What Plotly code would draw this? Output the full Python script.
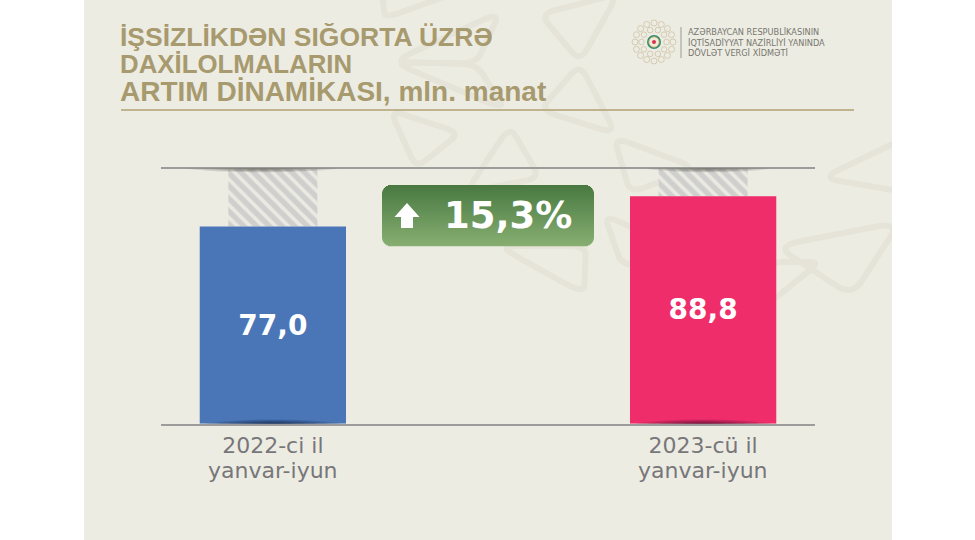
import math
import plotly.graph_objects as go

W = 975
H = 540

categories = ["2022-ci il", "2023-cü il"]
period_label = "yanvar-iyun"
values = [77.0, 88.8]
value_labels = ["77,0", "88,8"]
full_scale = 99.5
bar_colors = ["#4A76B8", "#EF2D6B"]
growth_label = "15,3%"
title_lines = ["İŞSİZLİKDƏN SIĞORTA ÜZRƏ", "DAXİLOLMALARIN", "ARTIM DİNAMİKASI, mln. manat"]
agency_lines = [
    "AZƏRBAYCAN RESPUBLİKASININ",
    "İQTİSADİYYAT NAZİRLİYİ YANINDA",
    "DÖVLƏT VERGİ XİDMƏTİ",
]

# background ornament, in page pixels
petals = [
    [(540, 14), (618, -6), (580, 62)],
    [(580, 64), (540, 110), (616, 134)],
    [(390, 110), (460, 133), (416, 168)],
    [(510, 126), (466, 192), (540, 178)],
    [(614, 137), (696, 168), (630, 193)],
    [(604, 214), (706, 264), (622, 266)],
    [(822, 178), (905, 138), (905, 192)],
    [(385, 18), (458, -8), (382, -8)],
    [(392, 62), (500, 12), (476, 64)],
    [(476, 64), (506, 110), (392, 62)],
    [(498, 246), (586, 246), (584, 294)],
    [(776, 246), (900, 222), (852, 296)],
    [(768, 304), (820, 262), (772, 262)],
]


def px(x, y):
    return x / W, 1 - y / H


def rounded_path(points, cut=0.2):
    path = ""
    n = len(points)
    for i in range(n):
        prev_p, cur, next_p = points[i - 1], points[i], points[(i + 1) % n]
        ax, ay = px(cur[0] + (prev_p[0] - cur[0]) * cut, cur[1] + (prev_p[1] - cur[1]) * cut)
        bx, by = px(cur[0] + (next_p[0] - cur[0]) * cut, cur[1] + (next_p[1] - cur[1]) * cut)
        cx, cy = px(cur[0], cur[1])
        path += ("M" if i == 0 else "L") + " {} {} Q {} {} {} {} ".format(ax, ay, cx, cy, bx, by)
    return path + "Z"


def paper_rect(x0, y0, x1, y1, color, layer="below"):
    a, b = px(x0, y1)
    c, d = px(x1, y0)
    return dict(type="rect", xref="paper", yref="paper", x0=a, y0=b, x1=c, y1=d,
                fillcolor=color, line_width=0, layer=layer)


def paper_line(x0, y0, x1, y1, color, width):
    a, b = px(x0, y0)
    c, d = px(x1, y1)
    return dict(type="line", xref="paper", yref="paper", x0=a, y0=b, x1=c, y1=d,
                line=dict(color=color, width=width), layer="below")


def circle(cx, cy, r, fill, line_color=None, line_width=0):
    a, b = px(cx - r, cy + r)
    c, d = px(cx + r, cy - r)
    return dict(type="circle", xref="paper", yref="paper", x0=a, y0=b, x1=c, y1=d,
                fillcolor=fill, line=dict(color=line_color or fill, width=line_width), layer="above")


def shadow(cx, cy, half_w, height, color, direction):
    # half ellipses stacked up to fake a soft shadow
    out = []
    for k in range(1, 7):
        hw = half_w * k / 6
        hh = height * k / 6
        x0, y0 = px(cx - hw, cy)
        x1, y1 = px(cx + hw, cy)
        xc0, yc = px(cx - hw * 0.6, cy + direction * hh)
        xc1, _ = px(cx + hw * 0.6, cy + direction * hh)
        path = "M {} {} C {} {} {} {} {} {} Z".format(x0, y0, xc0, yc, xc1, yc, x1, y1)
        out.append(dict(type="path", xref="paper", yref="paper", path=path, fillcolor=color,
                        opacity=0.16, line_width=0, layer="above"))
    return out


shapes = [paper_rect(84, 0, 892, H, "#EDECE3")]
for p in petals:
    shapes.append(dict(type="path", xref="paper", yref="paper", path=rounded_path(p),
                       line=dict(color="#E6E4D8", width=6), layer="below"))
shapes.append(paper_rect(892, 0, W, H, "#FFFFFF"))
shapes.append(paper_line(121, 110, 854, 110, "#B0A274", 1.5))
shapes.append(paper_line(681, 27, 681, 58, "#9A9A92", 1))

# shadows at the foot of the bars and under the top rule
shapes += shadow(273, 424, 68, 6, "#0E1F3C", -1)
shapes += shadow(703, 424, 68, 6, "#4A0F2C", -1)
shapes += shadow(262, 168.5, 76, 5, "#55554F", 1)
shapes += shadow(708, 168.5, 62, 5, "#55554F", 1)

# green badge, one strip per pixel row for the gradient
bx0, bx1, by0, by1, br = 382, 594, 185, 246, 9
top_rgb = (73, 121, 65)
bot_rgb = (134, 174, 113)
for row in range(by0, by1):
    t = (row - by0) / (by1 - by0 - 1)
    rgb = [round(top_rgb[i] + (bot_rgb[i] - top_rgb[i]) * t) for i in range(3)]
    mid = row + 0.5
    inset = 0
    if mid < by0 + br:
        inset = br - math.sqrt(br ** 2 - (by0 + br - mid) ** 2)
    elif mid > by1 - br:
        inset = br - math.sqrt(br ** 2 - (mid - by1 + br) ** 2)
    shapes.append(paper_rect(bx0 + inset, row, bx1 - inset, row + 1.3,
                             "rgb({},{},{})".format(*rgb), layer="above"))

# arrow on the badge
arrow = [(407, 203), (419.5, 217), (413, 217), (413, 228), (401, 228), (401, 217), (394.5, 217)]
arrow_path = ""
for i, p in enumerate(arrow):
    ax, ay = px(*p)
    arrow_path += ("M" if i == 0 else "L") + " {} {} ".format(ax, ay)
shapes.append(dict(type="path", xref="paper", yref="paper", path=arrow_path + "Z",
                   fillcolor="#FFFFFF", line_width=0, layer="above"))

# emblem: ring of small petals and a coloured centre
logo_x, logo_y = 654, 42
for ring_r, count, size in [(19, 16, 3.0), (12.5, 10, 2.8)]:
    for i in range(count):
        ang = 2 * math.pi * i / count
        x = logo_x + ring_r * math.cos(ang)
        y = logo_y + ring_r * math.sin(ang)
        shapes.append(circle(x, y, size, "rgba(0,0,0,0)", "#C8BD9C", 0.7))
shapes.append(circle(logo_x, logo_y, 7, "#2F8C7A"))
shapes.append(circle(logo_x, logo_y, 5.2, "#F1E9DC", "#C9A84F", 0.8))
shapes.append(circle(logo_x, logo_y, 2, "#D8334A"))

annotations = []
for text, y, size in zip(title_lines, [37, 64, 91.5], [26.5, 25.8, 28]):
    ax, ay = px(118, y)
    annotations.append(dict(xref="paper", yref="paper", x=ax, y=ay, text="<b>" + text + "</b>",
                            showarrow=False, xanchor="left", yanchor="middle",
                            font=dict(family="Liberation Sans", size=size, color="#A79A6E")))
ax, ay = px(686, 43)
annotations.append(dict(xref="paper", yref="paper", x=ax, y=ay, text="<br>".join(agency_lines),
                        showarrow=False, xanchor="left", yanchor="middle", align="left",
                        font=dict(family="DejaVu Sans", size=8.2, color="#77776F")))
ax, ay = px(508, 215)
annotations.append(dict(xref="paper", yref="paper", x=ax, y=ay, text="<b>" + growth_label + "</b>",
                        showarrow=False, xanchor="center", yanchor="middle",
                        font=dict(family="DejaVu Sans", size=37, color="#FFFFFF")))
for cat in categories:
    _, ay = px(0, 470)
    annotations.append(dict(xref="x", yref="paper", x=cat, y=ay, text=period_label,
                            showarrow=False, xanchor="center", yanchor="middle",
                            font=dict(family="DejaVu Sans", size=22, color="#77777A")))

fig = go.Figure()

fig.add_trace(
    go.Bar(
        x=categories,
        y=[full_scale - v for v in values],
        base=values,
        width=0.207,
        marker=dict(
            color="#EBEAE2",
            line_width=0,
            pattern=dict(shape="\\", fgcolor="#B4B5BA", bgcolor="#EBEAE2", size=9, solidity=0.6),
        ),
        hoverinfo="skip",
        showlegend=False,
    )
)
fig.add_trace(
    go.Bar(
        x=categories,
        y=values,
        width=0.34,
        marker=dict(color=bar_colors, line_width=0),
        text=value_labels,
        textposition="inside",
        insidetextanchor="middle",
        textangle=0,
        textfont=dict(family="DejaVu Sans", size=28, color="#FFFFFF", weight="bold"),
        showlegend=False,
    )
)

fig.update_layout(
    width=W,
    height=H,
    margin=dict(l=0, r=0, t=0, b=0),
    paper_bgcolor="#FFFFFF",
    plot_bgcolor="rgba(0,0,0,0)",
    barmode="overlay",
    showlegend=False,
    shapes=shapes,
    annotations=annotations,
    xaxis=dict(
        domain=[161 / W, 815 / W],
        range=[-0.26, 1.26],
        type="category",
        showline=True,
        mirror=True,
        linecolor="#9C9C9A",
        linewidth=1.5,
        showgrid=False,
        ticks="",
        ticklen=0,
        ticklabelstandoff=1,
        tickfont=dict(family="DejaVu Sans", size=22, color="#77777A"),
    ),
    yaxis=dict(
        domain=[1 - 423.7 / H, 1 - 168.8 / H],
        range=[0, full_scale],
        visible=False,
    ),
)

fig.write_html(
    "out.html",
    config=dict(displayModeBar=False),
    post_script="document.body.style.margin='0';document.body.style.overflow='hidden';",
)
